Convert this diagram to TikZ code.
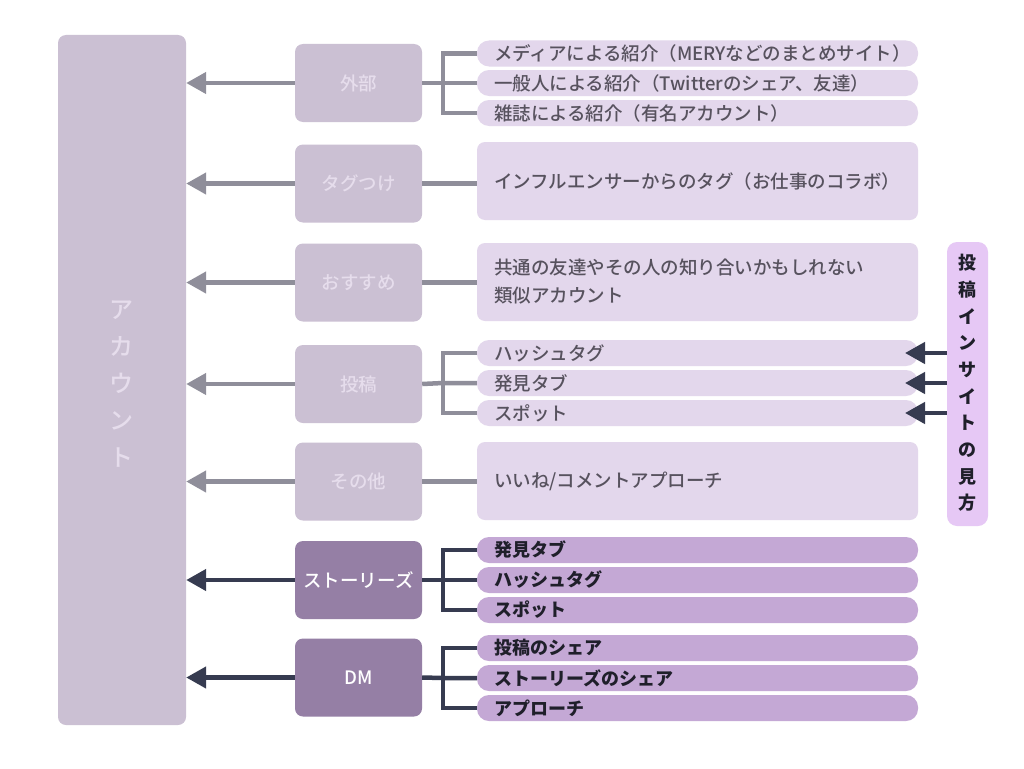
\documentclass[tikz,border=0pt]{standalone}
\usepackage{fontspec}
\setmainfont{Noto Sans CJK JP}
\newfontfamily\jpmed{Noto Sans CJK JP Medium}
\usetikzlibrary{arrows.meta}
\definecolor{acc}{HTML}{CBC0D3}
\definecolor{acctext}{HTML}{E6DDEC}
\definecolor{midd}{HTML}{957FA5}
\definecolor{rowl}{HTML}{E3D7EC}
\definecolor{rowd}{HTML}{C4A8D5}
\definecolor{linel}{HTML}{8F8E9A}
\definecolor{lined}{HTML}{363B50}
\definecolor{sidec}{HTML}{E6C8F5}
\definecolor{txtl}{HTML}{57525E}
\definecolor{txtd}{HTML}{1F1F2A}
\tikzset{
  midbox/.style={fill=acc, rounded corners=8pt, minimum width=127pt, minimum height=78pt, inner sep=0pt, text=acctext, font=\jpmed\fontsize{18.5}{20}\selectfont},
  middark/.style={midbox, fill=midd, text=white, font=\jpmed\fontsize{18.5}{20}\selectfont},
  rowbox/.style={fill=rowl, rounded corners=12pt, minimum width=441pt, minimum height=26pt, inner xsep=17pt, inner ysep=0pt, text width=407pt, align=left, text=txtl, font=\jpmed\fontsize{18.5}{20}\selectfont},
  rowbig/.style={rowbox, rounded corners=8pt, minimum height=78pt},
  rowdark/.style={rowbox, fill=rowd, text=txtd, font=\fontsize{18}{20}\selectfont\bfseries},
  arrl/.style={draw=linel, line width=4.5pt, -{Triangle[length=20pt,width=21pt]}},
  arrd/.style={arrl, draw=lined},
  conl/.style={draw=linel, line width=4.5pt, line join=miter},
  cond/.style={conl, draw=lined},
}
\begin{document}
\begin{tikzpicture}[x=1pt,y=-1pt]
\useasboundingbox (0,0) rectangle (1024,768);
\fill[white] (0,0) rectangle (1024,768);
% account
\node[fill=acc, rounded corners=8pt, minimum width=128pt, minimum height=690pt, inner sep=0pt] (acc) at (122,380) {};
\node[text=acctext, align=center, font=\jpmed\fontsize{24}{37}\selectfont] (acct) at (121,384) {ア\\カ\\ウ\\ン\\ト};
% middle boxes
\node[midbox] (m1) at (358.5,83) {外部};
\node[midbox] (m2) at (358.5,183.5) {タグつけ};
\node[midbox] (m3) at (358.5,282.5) {おすすめ};
\node[midbox] (m4) at (358.5,384) {投稿};
\node[midbox] (m5) at (358.5,481.5) {その他};
\node[middark] (m6) at (358.5,580) {ストーリーズ};
\node[middark] (m7) at (358.5,677.5) {DM};
% rows
\node[rowbox] (r1a) at (697.5,53.5) {メディアによる紹介（MERYなどのまとめサイト）};
\node[rowbox] (r1b) at (697.5,83) {一般人による紹介（Twitterのシェア、友達）};
\node[rowbox] (r1c) at (697.5,113) {雑誌による紹介（有名アカウント）};
\node[rowbig] (r2) at (697.5,181) {インフルエンサーからのタグ（お仕事のコラボ）};
\node[rowbig, font=\jpmed\fontsize{18.5}{28}\selectfont] (r3) at (697.5,282) {共通の友達やその人の知り合いかもしれない\\類似アカウント};
\node[rowbox] (r4a) at (697.5,353) {ハッシュタグ};
\node[rowbox] (r4b) at (697.5,383) {発見タブ};
\node[rowbox] (r4c) at (697.5,413) {スポット};
\node[rowbig] (r5) at (697.5,481) {いいね/コメントアプローチ};
\node[rowdark] (r6a) at (697.5,550) {発見タブ};
\node[rowdark] (r6b) at (697.5,580) {ハッシュタグ};
\node[rowdark] (r6c) at (697.5,610) {スポット};
\node[rowdark] (r7a) at (697.5,648) {投稿のシェア};
\node[rowdark] (r7b) at (697.5,678) {ストーリーズのシェア};
\node[rowdark] (r7c) at (697.5,708) {アプローチ};
% side box
\node[fill=sidec, rounded corners=10pt, minimum width=41pt, minimum height=284pt, inner sep=0pt] (side) at (967.5,384) {};
\node[align=center, text=txtd, font=\fontsize{18}{26.7}\selectfont\bfseries] (sidet) at (967.5,383) {投\\稿\\イ\\ン\\サ\\イ\\ト\\の\\見\\方};
% arrows to account
\foreach \m in {m1,m2,m3,m4,m5}{\draw[arrl] (\m.west) -- (\m.west -| acc.east);}
\foreach \m in {m6,m7}{\draw[arrd] (\m.west) -- (\m.west -| acc.east);}
% brackets
\coordinate (b1) at (443,83);
\draw[conl] (m1.east) -- (b1) -- (r1b.west);
\draw[conl] (r1a.west) -| (b1 |- r1c.west) -- (r1c.west);
\draw[conl] (m2.east) -- (m2.east -| r2.west);
\draw[conl] (m3.east) -- (m3.east -| r3.west);
\coordinate (b4) at (443,383);
\draw[conl] (m4.east) -- (b4) -- (r4b.west);
\draw[conl] (r4a.west) -| (b4 |- r4c.west) -- (r4c.west);
\draw[conl] (m5.east) -- (m5.east -| r5.west);
\coordinate (b6) at (443,580);
\draw[cond] (m6.east) -- (b6) -- (r6b.west);
\draw[cond] (r6a.west) -| (b6 |- r6c.west) -- (r6c.west);
\coordinate (b7) at (443,678);
\draw[cond] (m7.east) -- (b7) -- (r7b.west);
\draw[cond] (r7a.west) -| (b7 |- r7c.west) -- (r7c.west);
% side arrows
\coordinate (t4a) at (905,353);
\coordinate (t4b) at (905,383);
\coordinate (t4c) at (905,413);
\draw[arrd] (side.west |- t4a) -- (t4a);
\draw[arrd] (side.west |- t4b) -- (t4b);
\draw[arrd] (side.west |- t4c) -- (t4c);
\end{tikzpicture}
\end{document}
